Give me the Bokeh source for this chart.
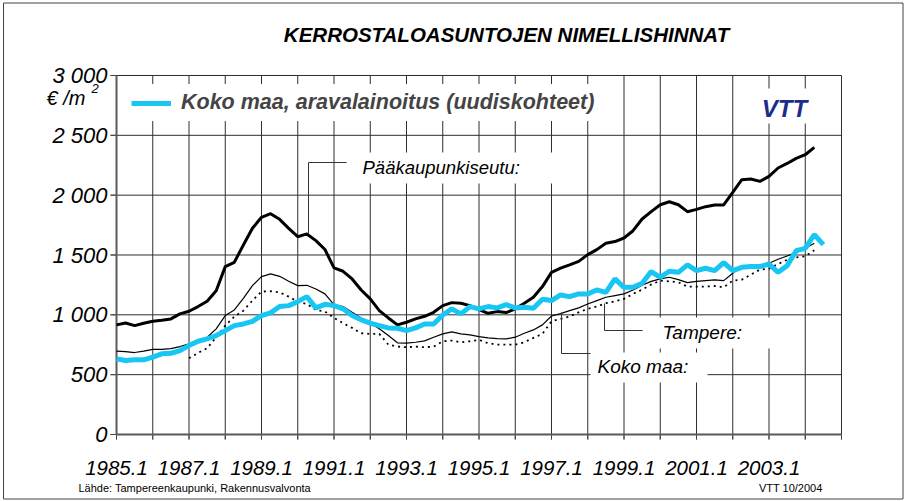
import numpy as np
from bokeh.plotting import figure
from bokeh.models import (Range1d, FixedTicker, Label, BoxAnnotation, Legend, LegendItem,
                          LinearAxis)
from bokeh.embed import file_html
from bokeh.resources import INLINE

# ---------------- data (quarterly, index 0 = 1985.1) ----------------
x_tick_labels = ["1985.1", "1987.1", "1989.1", "1991.1", "1993.1",
                 "1995.1", "1997.1", "1999.1", "2001.1", "2003.1"]
y_ticks = [0, 500, 1000, 1500, 2000, 2500, 3000]
y_tick_labels = ["0", "500", "1 000", "1 500", "2 000", "2 500", "3 000"]

paakaupunkiseutu = [916, 932, 910, 930, 946, 955, 966, 1008, 1030, 1069,
                    1113, 1202, 1403, 1439, 1584, 1723, 1815, 1845, 1798, 1723,
                    1653, 1676, 1620, 1546, 1392, 1364, 1300, 1208, 1133, 1035,
                    974, 916, 938, 966, 988, 1021, 1077, 1102, 1097, 1077,
                    1044, 1013, 1027, 1019, 1050, 1097, 1147, 1236, 1355, 1390,
                    1417, 1447, 1503, 1545, 1598, 1612, 1642, 1703, 1801, 1862,
                    1920, 1945, 1920, 1862, 1881, 1904, 1918, 1918, 2023, 2129,
                    2135, 2115, 2157, 2227, 2265, 2307, 2338, 2399]

tampere = [696, 693, 685, 696, 712, 712, 718, 735, 757, 785,
           813, 883, 994, 1041, 1138, 1244, 1319, 1342, 1322, 1280,
           1244, 1247, 1216, 1175, 1085, 1069, 1021, 974, 930, 883,
           827, 766, 763, 771, 782, 813, 841, 858, 841, 832,
           818, 807, 802, 799, 813, 846, 874, 916, 990, 1010,
           1035, 1058, 1091, 1119, 1147, 1161, 1175, 1208, 1247, 1280,
           1300, 1314, 1294, 1269, 1280, 1286, 1292, 1286, 1347, 1403,
           1409, 1414, 1431, 1464, 1492, 1520, 1556, 1598]

koko_maa_start = 8
koko_maa = [637, 682, 721, 813, 910, 985, 1035, 1119, 1194, 1197,
            1188, 1152, 1110, 1091, 1041, 1028, 974, 930, 891, 846,
            841, 841, 751, 735, 729, 735, 729, 735, 779, 785,
            771, 779, 791, 763, 751, 751, 751, 771, 807, 841,
            946, 966, 985, 1021, 1050, 1069, 1097, 1113, 1133, 1175,
            1211, 1253, 1286, 1280, 1272, 1236, 1236, 1236, 1241, 1230,
            1286, 1294, 1336, 1378, 1386, 1425, 1460, 1480, 1490, 1540]

aravalainoitus = [632, 618, 624, 624, 646, 674, 679, 701, 743, 779,
                  799, 827, 868, 910, 924, 946, 994, 1016, 1069, 1077,
                  1110, 1152, 1058, 1088, 1077, 1050, 994, 958, 930, 910,
                  891, 888, 868, 891, 924, 924, 999, 1050, 1008, 1069,
                  1050, 1069, 1058, 1085, 1058, 1063, 1055, 1130, 1119, 1166,
                  1152, 1175, 1175, 1208, 1188, 1300, 1230, 1230, 1264, 1361,
                  1314, 1364, 1355, 1417, 1369, 1389, 1369, 1436, 1369, 1397,
                  1403, 1403, 1425, 1355, 1411, 1536, 1556, 1670, 1587]

N_Q = 80       # x axis spans 1985.1 .. 2005.1 (quarters)
Y_MAX = 3000

# ---------------- geometry (page pixels) ----------------
W, H = 905, 500
PL, PR, PT, PB = 116, 841, 75, 434      # plot-area edges on the page
SX = (PR - PL) / N_Q
SY = (PB - PT) / Y_MAX

def dx(px):
    return (px - PL) / SX

def dy(py):
    return (PB - py) / SY

# rule lines are placed through the same page-pixel mapping as the other decorations
def gxa(vals):
    return np.asarray([dx(PL + v * SX + 0.01) for v in vals], dtype=float)

def gya(vals):
    return np.asarray([dy(PB - v * SY - 0.01) for v in vals], dtype=float)

FONT = "Liberation Sans"
GRID = "#2e2e2e"
AXIS = "#5a5a5a"

p = figure(width=W, height=H, x_range=Range1d(dx(0), dx(W)), y_range=Range1d(dy(H), dy(0)),
           output_backend="svg", toolbar_location=None,
           x_axis_location=None, y_axis_location=None,
           min_border_left=0, min_border_right=0, min_border_top=0, min_border_bottom=0)
p.center = []            # drop default grids
p.outline_line_color = None
p.background_fill_color = "white"
p.border_fill_color = "white"

x_grid_ticks = list(range(0, N_Q + 1, 4))
xt = FixedTicker(ticks=x_grid_ticks)
yt = FixedTicker(ticks=y_ticks)

# grid lines restricted to the plot area, drawn as continuous serpentine paths
gx, gy = [], []
for k, t in enumerate(x_grid_ticks):
    gx += [t, t]
    gy += [0, Y_MAX] if k % 2 == 0 else [Y_MAX, 0]
p.line(gxa(gx), gya(gy), line_color=GRID, line_width=1)
hx, hy = [], []
for k, v in enumerate(y_ticks):
    hx += [0, N_Q] if k % 2 == 0 else [N_Q, 0]
    hy += [v, v]
p.line(gxa(hx), gya(hy), line_color=GRID, line_width=1)

# tick marks (outside)
tx, ty = [], []
for t in x_grid_ticks:
    tx += [t, t, t]
    ty += [0, -5 / SY, 0]
p.line(gxa(tx), gya(ty), line_color="#444", line_width=1)
ux, uy = [], []
for v in y_ticks:
    ux += [0, -6 / SX, 0]
    uy += [v, v, v]
p.line(gxa(ux), gya(uy), line_color="#444", line_width=1)

# axis lines
p.line(gxa([N_Q, 0, 0]), gya([0, 0, Y_MAX]), line_color=AXIS, line_width=2)

# ---------------- series ----------------
p.line(np.arange(len(paakaupunkiseutu)), paakaupunkiseutu, line_color="black", line_width=3)
p.line(np.arange(len(tampere)), tampere, line_color="black", line_width=1.2)
p.line(np.arange(koko_maa_start, koko_maa_start + len(koko_maa)), koko_maa,
       line_color="black", line_width=1.8, line_dash="2 4")
cyan = p.line(np.arange(len(aravalainoitus)), aravalainoitus, line_color="#18C6F4", line_width=5)

# axes (tick labels)
xaxis = LinearAxis(fixed_location=0, bounds=(0, N_Q), ticker=xt)
yaxis = LinearAxis(fixed_location=0, bounds=(0, Y_MAX), ticker=yt)
xaxis.major_label_overrides = {t: (x_tick_labels[t // 8] if t % 8 == 0 and t // 8 < len(x_tick_labels) else "")
                               for t in x_grid_ticks}
yaxis.major_label_overrides = {v: s for v, s in zip(y_ticks, y_tick_labels)}
for ax in (xaxis, yaxis):
    ax.axis_line_color = None
    ax.major_tick_line_color = None
    ax.minor_tick_line_color = None
    ax.major_tick_in = 0
    ax.major_label_text_font = FONT
    ax.major_label_text_font_style = "italic"
    ax.major_label_text_color = "black"
xaxis.major_tick_out = 5
yaxis.major_tick_out = 6
xaxis.major_label_text_font_size = "20.5px"
yaxis.major_label_text_font_size = "22px"
xaxis.major_label_standoff = 21
yaxis.major_label_standoff = 3
p.add_layout(xaxis, "below")
p.add_layout(yaxis, "left")

# ---------------- white label boxes ----------------
def wbox(l, r, t, b):
    p.add_layout(BoxAnnotation(left=dx(l), right=dx(r), top=dy(t), bottom=dy(b),
                               fill_color="white", fill_alpha=1, line_alpha=0))

wbox(350, 555, 152, 183)   # Pääkaupunkiseutu
wbox(650, 772, 317, 348)   # Tampere
wbox(590, 707, 352, 382)   # Koko maa
wbox(740, 810, 88, 123)    # logo

# outer frame of the picture
bx = [3, 902.5, 902.5, 3, 3]
by = [2.5, 2.5, 498.5, 498.5, 2.5]
p.line([dx(v) for v in bx], [dy(v) for v in by], line_color="#444", line_width=1)

# leader lines
for xs, ys in [([308, 308, 346], [233, 162, 162]),
               ([604, 604, 642], [303, 330, 330]),
               ([561, 561, 592], [312, 353, 353])]:
    p.line([dx(v) for v in xs], [dy(v) for v in ys], line_color="#333", line_width=1)

def lab(px, py, text, size, style="italic", align="left", color="black"):
    p.add_layout(Label(x=dx(px), y=dy(py), text=text, text_font=FONT,
                       text_font_style=style, text_font_size=size, text_color=color,
                       text_align=align, text_baseline="middle"))

lab(506, 34, "KERROSTALOASUNTOJEN NIMELLISHINNAT", "20.5px", "bold italic", "center")
lab(362, 167, "Pääkaupunkiseutu:", "18.5px")
lab(662, 332, "Tampere:", "19px")
lab(597, 366, "Koko maa:", "19px")
lab(46, 97, "€ /m", "20px")
lab(91, 88, "2", "13px")
lab(78, 487, "Lähde: Tampereenkaupunki, Rakennusvalvonta", "11px", "normal")
lab(822, 487, "VTT 10/2004", "11px", "normal", "right")

# VTT logo
p.line([dx(v) for v in [741, 749, 753, 756, 759, 763]],
       [dy(v) for v in [103, 103, 97, 91, 92, 108]], line_color="#6FA3E6", line_width=2)
lab(784, 108, "VTT", "24px", "bold italic", "center", "#1B2D8A")

# legend
legend = Legend(items=[LegendItem(label="Koko maa, aravalainoitus (uudiskohteet)", renderers=[cyan])],
                location=(125, H - 121), border_line_alpha=0, background_fill_color="white",
                background_fill_alpha=1, padding=6, margin=0, spacing=0,
                glyph_width=40, glyph_height=20, label_standoff=10,
                label_text_font=FONT, label_text_font_style="bold italic",
                label_text_font_size="21.5px")
p.add_layout(legend)

open("out.html", "w").write(file_html(p, INLINE))
